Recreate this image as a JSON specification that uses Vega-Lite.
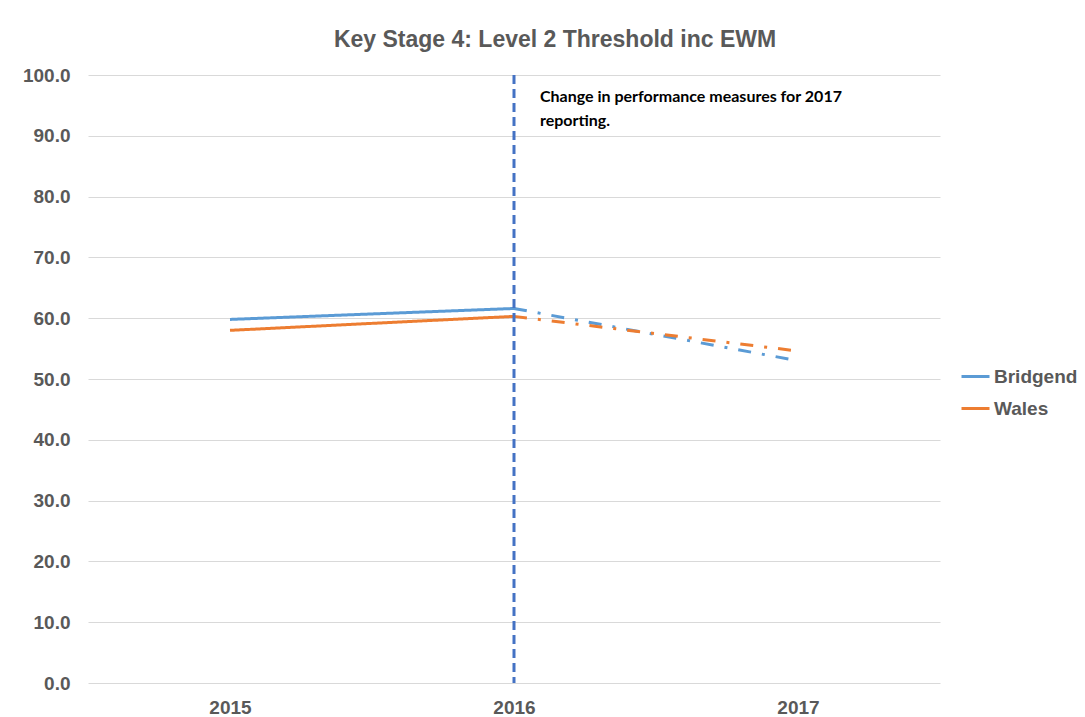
{
  "$schema": "https://vega.github.io/schema/vega-lite/v6.json",
  "autosize": "none",
  "width": 852,
  "height": 608,
  "padding": {"left": 88, "top": 75, "right": 145, "bottom": 34},
  "background": "white",
  "title": {
    "text": "Key Stage 4: Level 2 Threshold inc EWM",
    "font": "Liberation Sans",
    "fontSize": 23,
    "fontWeight": "bold",
    "color": "#595959",
    "anchor": "middle",
    "frame": "group",
    "dx": 41,
    "offset": 14
  },
  "config": {
    "view": {"stroke": null},
    "axis": {
      "labelFont": "Liberation Sans",
      "labelFontSize": 19,
      "labelFontWeight": "bold",
      "labelColor": "#595959",
      "domain": false,
      "ticks": false,
      "title": null
    },
    "legend": {
      "labelFont": "Liberation Sans",
      "labelFontSize": 19,
      "labelFontWeight": "bold",
      "labelColor": "#595959"
    }
  },
  "datasets": {
    "lines": [
      {"series": "Bridgend", "year": "2015", "value": 59.8, "seg": "solid"},
      {"series": "Bridgend", "year": "2016", "value": 61.6, "seg": "solid"},
      {"series": "Bridgend", "year": "2016", "value": 61.6, "seg": "dashed"},
      {"series": "Bridgend", "year": "2017", "value": 53.0, "seg": "dashed"},
      {"series": "Wales", "year": "2015", "value": 58.0, "seg": "solid"},
      {"series": "Wales", "year": "2016", "value": 60.3, "seg": "solid"},
      {"series": "Wales", "year": "2016", "value": 60.3, "seg": "dashed"},
      {"series": "Wales", "year": "2017", "value": 54.6, "seg": "dashed"}
    ],
    "marker": [
      {"year": "2016", "value": 100, "note": ["Change in performance measures for 2017", "reporting."]}
    ]
  },
  "layer": [
    {
      "data": {"name": "lines"},
      "mark": {"type": "line", "strokeWidth": 3, "strokeCap": "butt"},
      "encoding": {
        "x": {
          "field": "year",
          "type": "ordinal",
          "scale": {"type": "point", "padding": 0.5, "domain": ["2015", "2016", "2017"]},
          "axis": {"labelAngle": 0, "labelPadding": 15, "grid": false}
        },
        "y": {
          "field": "value",
          "type": "quantitative",
          "scale": {"domain": [0, 100], "nice": false},
          "axis": {
            "values": [0, 10, 20, 30, 40, 50, 60, 70, 80, 90, 100],
            "format": ".1f",
            "labelPadding": 18,
            "gridColor": "#d9d9d9",
            "gridWidth": 1
          }
        },
        "color": {
          "field": "series",
          "type": "nominal",
          "scale": {"domain": ["Bridgend", "Wales"], "range": ["#5B9BD5", "#ED7D31"]},
          "legend": {
            "title": null,
            "orient": "none",
            "legendX": 872,
            "legendY": 286,
            "symbolType": "stroke",
            "symbolSize": 784,
            "symbolStrokeWidth": 3,
            "labelOffset": 3,
            "rowPadding": 6
          }
        },
        "strokeDash": {
          "field": "seg",
          "type": "nominal",
          "scale": {"domain": ["solid", "dashed"], "range": [[1, 0], [13, 11, 3, 11]]},
          "legend": null
        }
      }
    },
    {
      "data": {"name": "marker"},
      "mark": {"type": "rule", "color": "#4472C4", "strokeWidth": 3, "strokeDash": [9, 5]},
      "encoding": {
        "x": {"field": "year", "type": "ordinal"}
      }
    },
    {
      "data": {"name": "marker"},
      "mark": {
        "type": "text",
        "align": "left",
        "baseline": "top",
        "dx": 26,
        "dy": 14,
        "font": "Lato",
        "fontSize": 16,
        "fontWeight": "bold",
        "color": "#000000",
        "lineHeight": 24
      },
      "encoding": {
        "x": {"field": "year", "type": "ordinal"},
        "y": {"field": "value", "type": "quantitative"},
        "text": {"field": "note"}
      }
    }
  ]
}
